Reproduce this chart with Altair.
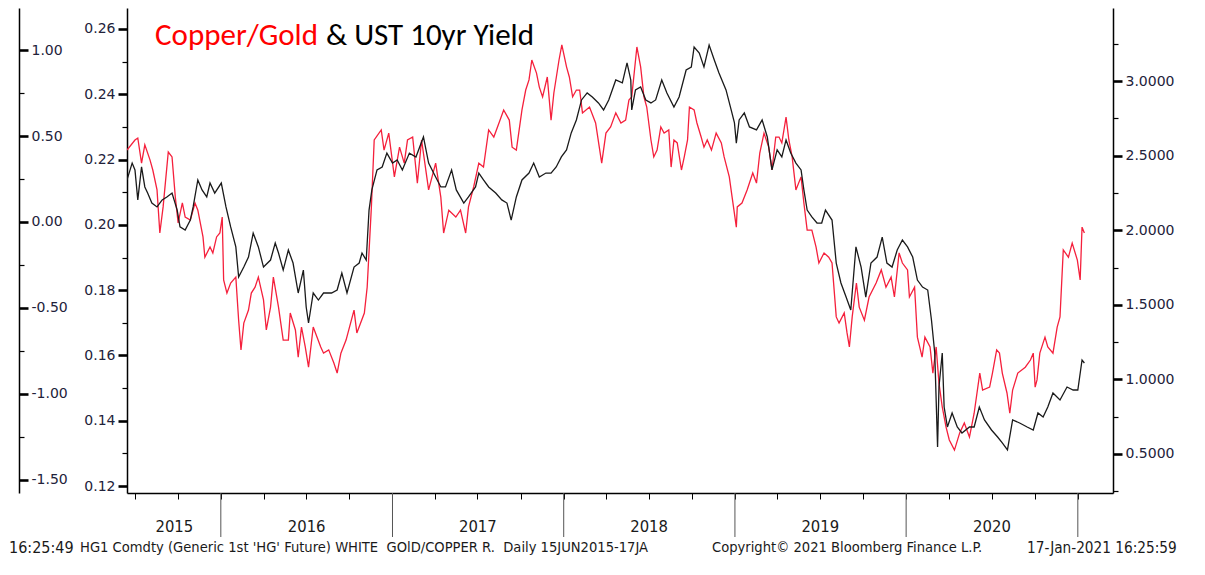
import altair as alt
import pandas as pd

# ---------------- data ----------------
red_dates = ["2015-06-15","2015-07-02","2015-07-08","2015-07-16","2015-07-23","2015-08-03","2015-08-09","2015-08-18","2015-08-24","2015-08-31",
"2015-09-11","2015-09-19","2015-09-26","2015-10-02","2015-10-11","2015-10-17","2015-10-28","2015-11-07","2015-11-13","2015-11-24",
"2015-11-28","2015-12-09","2015-12-15","2015-12-23","2015-12-30","2016-01-04","2016-01-07","2016-01-14","2016-01-22","2016-02-02",
"2016-02-08","2016-02-13","2016-02-19","2016-02-29","2016-03-06","2016-03-14","2016-03-21","2016-04-01","2016-04-07","2016-04-16",
"2016-04-22","2016-05-03","2016-05-13","2016-05-24","2016-05-28","2016-06-08","2016-06-14","2016-06-21","2016-06-29","2016-07-06",
"2016-07-16","2016-08-01","2016-08-07","2016-08-18","2016-08-29","2016-09-05","2016-09-13","2016-09-24","2016-10-11","2016-10-17",
"2016-11-02","2016-11-08","2016-11-17","2016-11-23","2016-12-08","2016-12-14","2016-12-24","2017-01-05","2017-01-16","2017-01-26",
"2017-02-02","2017-02-13","2017-02-23","2017-03-04","2017-03-19","2017-04-03","2017-04-14","2017-04-20","2017-05-01","2017-05-16",
"2017-05-26","2017-06-06","2017-06-12","2017-06-23","2017-07-04","2017-07-14","2017-07-25","2017-08-05","2017-08-16","2017-08-26",
"2017-09-07","2017-09-13","2017-09-22","2017-10-04","2017-10-12","2017-10-19","2017-10-25","2017-11-04","2017-11-10","2017-11-17",
"2017-11-27","2017-12-05","2017-12-11","2017-12-22","2017-12-28","2018-01-07","2018-01-13","2018-01-20","2018-01-28","2018-02-04",
"2018-02-10","2018-02-25","2018-03-10","2018-03-23","2018-04-01","2018-04-11","2018-04-22","2018-05-03","2018-05-13","2018-05-20",
"2018-05-26","2018-06-06","2018-06-14","2018-06-21","2018-06-27","2018-07-06","2018-07-12","2018-07-19","2018-07-27","2018-08-03",
"2018-08-13","2018-08-18","2018-08-24","2018-08-31","2018-09-09","2018-09-15","2018-09-22","2018-09-26","2018-10-06","2018-10-12",
"2018-10-21","2018-10-27","2018-11-03","2018-11-12","2018-11-22","2018-12-03","2018-12-09","2018-12-20","2018-12-26","2019-01-04",
"2019-01-06","2019-01-16","2019-01-27","2019-02-08","2019-02-16","2019-02-23","2019-03-04","2019-03-14","2019-03-21","2019-03-29",
"2019-04-05","2019-04-11","2019-04-20","2019-04-26","2019-05-03","2019-05-11","2019-05-22","2019-05-28","2019-06-04","2019-06-14",
"2019-06-23","2019-06-29","2019-07-10","2019-07-20","2019-07-27","2019-08-05","2019-08-11","2019-08-22","2019-08-28","2019-09-02",
"2019-09-08","2019-09-17","2019-09-23","2019-10-04","2019-10-14","2019-10-29","2019-11-09","2019-11-19","2019-11-30","2019-12-07",
"2019-12-17","2019-12-24","2020-01-04","2020-01-08","2020-01-19","2020-01-25","2020-02-04","2020-02-10","2020-02-21","2020-02-27",
"2020-03-05","2020-03-11","2020-03-18","2020-03-26","2020-04-02","2020-04-13","2020-04-24","2020-05-04","2020-05-15","2020-05-25",
"2020-06-06","2020-06-12","2020-06-27","2020-07-03","2020-07-12","2020-07-18","2020-07-24","2020-08-03","2020-08-09","2020-08-15",
"2020-08-26","2020-09-11","2020-09-22","2020-09-28","2020-10-02","2020-10-06","2020-10-12","2020-10-23","2020-10-29","2020-11-09",
"2020-11-18","2020-11-24","2020-12-01","2020-12-12","2020-12-20","2020-12-31","2021-01-06","2021-01-10","2021-01-15"]
red_values = [0.2229,0.2260,0.2266,0.2189,0.2245,0.2199,0.2168,0.2107,0.1975,0.2055,
0.2223,0.2208,0.2085,0.2006,0.2067,0.2024,0.2015,0.2067,0.2045,0.1963,
0.1901,0.1932,0.1914,0.1963,0.1975,0.2024,0.1831,0.1791,0.1822,0.1840,
0.1708,0.1617,0.1699,0.1739,0.1791,0.1809,0.1840,0.1770,0.1678,0.1748,
0.1840,0.1748,0.1647,0.1647,0.1730,0.1678,0.1595,0.1687,0.1626,0.1564,
0.1687,0.1626,0.1607,0.1617,0.1577,0.1546,0.1607,0.1647,0.1739,0.1669,
0.1730,0.1809,0.2055,0.2260,0.2291,0.2229,0.2281,0.2147,0.2238,0.2189,
0.2260,0.2269,0.2128,0.2260,0.2107,0.2189,0.2085,0.1975,0.2045,0.2024,
0.2045,0.1975,0.2055,0.2116,0.2189,0.2177,0.2291,0.2269,0.2312,0.2352,
0.2321,0.2238,0.2229,0.2352,0.2413,0.2444,0.2505,0.2465,0.2422,0.2392,
0.2453,0.2321,0.2404,0.2505,0.2551,0.2484,0.2453,0.2392,0.2413,0.2413,
0.2343,0.2361,0.2312,0.2189,0.2281,0.2300,0.2343,0.2312,0.2321,0.2382,
0.2392,0.2545,0.2484,0.2392,0.2361,0.2260,0.2208,0.2229,0.2300,0.2281,
0.2291,0.2177,0.2260,0.2251,0.2168,0.2208,0.2260,0.2361,0.2352,0.2312,
0.2269,0.2238,0.2260,0.2229,0.2281,0.2251,0.2208,0.2147,0.2085,0.1993,
0.2055,0.2067,0.2107,0.2159,0.2128,0.2220,0.2281,0.2238,0.2168,0.2269,
0.2269,0.2251,0.2330,0.2260,0.2208,0.2107,0.2147,0.2067,0.1984,0.1984,
0.1932,0.1883,0.1914,0.1901,0.1883,0.1718,0.1699,0.1730,0.1669,0.1626,
0.1718,0.1822,0.1748,0.1708,0.1779,0.1822,0.1862,0.1809,0.1840,0.1779,
0.1914,0.1883,0.1862,0.1779,0.1809,0.1656,0.1595,0.1656,0.1626,0.1546,
0.1626,0.1515,0.1442,0.1381,0.1341,0.1310,0.1362,0.1393,0.1350,0.1423,
0.1546,0.1494,0.1503,0.1546,0.1617,0.1607,0.1546,0.1485,0.1423,0.1494,
0.1546,0.1564,0.1586,0.1607,0.1503,0.1525,0.1607,0.1656,0.1626,0.1607,
0.1687,0.1718,0.1923,0.1901,0.1944,0.1892,0.1831,0.1993,0.1975]

black_dates = ["2015-06-15","2015-06-26","2015-07-02","2015-07-08","2015-07-16","2015-07-23","2015-07-29","2015-08-07","2015-08-18","2015-08-29",
"2015-09-08","2015-09-19","2015-09-30","2015-10-06","2015-10-17","2015-10-28","2015-11-03","2015-11-13","2015-11-22","2015-12-02",
"2015-12-09","2015-12-19","2016-01-02","2016-01-12","2016-01-22","2016-02-02","2016-02-08","2016-02-19","2016-02-29","2016-03-10",
"2016-03-21","2016-04-01","2016-04-16","2016-04-26","2016-05-03","2016-05-13","2016-05-24","2016-06-03","2016-06-14","2016-06-25",
"2016-07-01","2016-07-06","2016-07-16","2016-07-27","2016-08-07","2016-08-24","2016-09-05","2016-09-15","2016-09-26","2016-10-11",
"2016-10-22","2016-10-28","2016-11-06","2016-11-12","2016-11-18","2016-11-29","2016-12-10","2016-12-20","2017-01-01","2017-01-11",
"2017-01-22","2017-02-06","2017-02-20","2017-03-08","2017-03-19","2017-04-03","2017-04-14","2017-04-24","2017-05-07","2017-05-17",
"2017-06-02","2017-06-12","2017-06-27","2017-07-04","2017-07-14","2017-07-25","2017-08-09","2017-08-22","2017-09-02","2017-09-11",
"2017-09-22","2017-10-04","2017-10-19","2017-10-29","2017-11-10","2017-11-24","2017-12-05","2017-12-16","2017-12-27","2018-01-07",
"2018-01-17","2018-01-28","2018-02-08","2018-02-20","2018-03-03","2018-03-16","2018-03-27","2018-04-07","2018-04-22","2018-05-06",
"2018-05-16","2018-05-24","2018-05-26","2018-06-03","2018-06-14","2018-06-25","2018-07-06","2018-07-16","2018-07-29","2018-08-09",
"2018-08-24","2018-09-04","2018-09-19","2018-09-30","2018-10-06","2018-10-17","2018-10-27","2018-11-07","2018-11-18","2018-11-28",
"2018-12-13","2018-12-24","2018-12-31","2019-01-04","2019-01-10","2019-01-21","2019-02-01","2019-02-16","2019-02-28","2019-03-11",
"2019-03-21","2019-04-01","2019-04-11","2019-04-20","2019-04-30","2019-05-11","2019-05-22","2019-05-28","2019-06-04","2019-06-14",
"2019-06-25","2019-07-05","2019-07-13","2019-07-27","2019-08-05","2019-08-15","2019-08-26","2019-09-05","2019-09-16","2019-09-27",
"2019-10-07","2019-10-18","2019-10-31","2019-11-11","2019-11-21","2019-12-02","2019-12-13","2019-12-24","2020-01-04","2020-01-15",
"2020-01-25","2020-02-05","2020-02-16","2020-02-24","2020-03-02","2020-03-08","2020-03-11","2020-03-18","2020-03-22","2020-03-29",
"2020-04-08","2020-04-19","2020-04-29","2020-05-15","2020-05-25","2020-06-05","2020-06-16","2020-07-01","2020-07-14","2020-07-24",
"2020-08-04","2020-08-15","2020-08-30","2020-09-15","2020-09-28","2020-10-08","2020-10-19","2020-10-29","2020-11-09","2020-11-24",
"2020-12-09","2020-12-22","2021-01-01","2021-01-10","2021-01-15"]
black_values = [2.337,2.450,2.404,2.203,2.424,2.290,2.249,2.182,2.156,2.203,
2.223,2.249,2.135,2.022,2.001,2.068,2.156,2.337,2.270,2.223,
2.316,2.249,2.316,2.156,2.022,1.888,1.686,1.753,1.820,1.981,
1.888,1.753,1.800,1.914,1.847,1.733,1.867,1.780,1.579,1.733,
1.485,1.378,1.579,1.532,1.579,1.579,1.599,1.713,1.579,1.753,
1.780,1.847,1.800,2.135,2.270,2.404,2.424,2.517,2.450,2.471,
2.404,2.517,2.491,2.625,2.450,2.357,2.290,2.290,2.404,2.270,
2.182,2.223,2.290,2.383,2.337,2.290,2.249,2.203,2.182,2.068,
2.223,2.337,2.383,2.450,2.357,2.383,2.383,2.424,2.491,2.538,
2.652,2.739,2.873,2.920,2.893,2.853,2.806,2.873,3.007,2.987,
3.121,3.007,2.806,2.940,2.960,2.873,2.853,2.873,3.007,2.920,
2.826,2.893,3.074,3.094,3.228,3.188,3.094,3.241,3.141,3.054,
2.940,2.806,2.719,2.584,2.739,2.786,2.692,2.672,2.739,2.625,
2.404,2.538,2.491,2.605,2.517,2.450,2.404,2.270,2.135,2.089,
2.048,2.048,2.135,2.068,1.780,1.646,1.552,1.465,1.888,1.753,
1.552,1.780,1.820,1.954,1.780,1.753,1.867,1.934,1.888,1.820,
1.666,1.619,1.599,1.398,1.177,0.547,0.949,1.177,0.815,0.681,
0.775,0.681,0.641,0.681,0.681,0.815,0.728,0.661,0.614,0.574,
0.527,0.728,0.708,0.681,0.661,0.775,0.748,0.815,0.909,0.862,
0.949,0.929,0.929,1.130,1.110]

red_ticks = [0.12, 0.14, 0.16, 0.18, 0.20, 0.22, 0.24, 0.26]
red_minor = [0.13, 0.15, 0.17, 0.19, 0.21, 0.23, 0.25]
black_ticks = [0.5, 1.0, 1.5, 2.0, 2.5, 3.0]
black_minor = [0.25, 0.75, 1.25, 1.75, 2.25, 2.75, 3.25]
outer_ticks = [-1.5, -1.0, -0.5, 0.0, 0.5, 1.0]
outer_minor = [-1.25, -0.75, -0.25, 0.25, 0.75]
year_starts = ["2016-01-01", "2017-01-01", "2018-01-01", "2019-01-01", "2020-01-01", "2021-01-01"]
year_labels = ["2015", "2016", "2017", "2018", "2019", "2020"]
year_label_dates = ["2015-09-24", "2016-07-02", "2017-07-02", "2018-07-02", "2019-07-02", "2020-07-02"]
quarter_years = [2015, 2015] + [y for y in range(2016, 2021) for _ in range(4)] + [2021]
quarter_months = [7, 10] + [1, 4, 7, 10] * 5 + [1]

# ---------------- chart ----------------
W, H = 986, 485
RED = "#f5203c"
BLACK = "#1a1a1a"
LABEL = "#22223a"
AX_FONT = "DejaVu Sans"
COND = "DejaVu Sans Condensed, Liberation Sans Narrow, Liberation Sans"
NB = "\u00a0"

red_df = pd.DataFrame({"date": red_dates, "value": red_values})
black_df = pd.DataFrame({"date": black_dates, "value": black_values})

xscale = alt.Scale(type="utc", domain=[alt.DateTime(year=2015, month=6, date=15, utc=True),
                                        alt.DateTime(year=2021, month=3, date=17, utc=True)])
xaxis = alt.Axis(values=[alt.DateTime(year=y, month=m, date=1, utc=True) for y, m in zip(quarter_years, quarter_months)],
                 labels=False, title=None, tickSize=6, tickColor="black", tickWidth=1,
                 domainColor="black", domainWidth=1.5, grid=False)

def yaxis(orient, values, labels=True, fmt=None, minor=False, offset=0, label_expr=None):
    kw = dict(orient=orient, values=values, title=None, grid=False,
              tickColor="black", domainColor="black", domainWidth=1.5,
              labelFont=AX_FONT, labelFontSize=14, labelColor=LABEL,
              labelOverlap=False, labelFlush=False, labelBound=False, offset=offset)
    if minor:
        kw.update(labels=False, domain=False, tickSize=5, tickWidth=1.2)
    else:
        kw.update(tickSize=9, tickWidth=2.6, labelPadding=3)
        if fmt:
            kw["format"] = fmt
        if label_expr:
            kw["labelExpr"] = label_expr
    return alt.Axis(**kw)

red_dom = [0.11786, 0.26643]
black_dom = [0.2386, 3.4893]
outer_dom = [-1.5756, 1.2442]
outer_off = -(W + 108)

red_line = alt.Chart(red_df).mark_line(color=RED, strokeWidth=1.3, clip=True).encode(
    x=alt.X("date:T", scale=xscale, axis=xaxis),
    y=alt.Y("value:Q", scale=alt.Scale(domain=red_dom, nice=False, zero=False),
            axis=yaxis("left", red_ticks, fmt=".2f")),
)
red_minor_l = alt.Chart(pd.DataFrame({"v": red_minor})).mark_point(opacity=0).encode(
    y=alt.Y("v:Q", scale=alt.Scale(domain=red_dom, nice=False, zero=False),
            axis=yaxis("left", red_minor, minor=True)),
)
black_line = alt.Chart(black_df).mark_line(color=BLACK, strokeWidth=1.3, clip=True).encode(
    x=alt.X("date:T", scale=xscale, axis=xaxis),
    y=alt.Y("value:Q", scale=alt.Scale(domain=black_dom, nice=False, zero=False),
            axis=yaxis("right", black_ticks, fmt=".4f")),
)
black_minor_l = alt.Chart(pd.DataFrame({"v": black_minor})).mark_point(opacity=0).encode(
    y=alt.Y("v:Q", scale=alt.Scale(domain=black_dom, nice=False, zero=False),
            axis=yaxis("right", black_minor, minor=True)),
)
outer_l = alt.Chart(pd.DataFrame({"v": outer_ticks})).mark_point(opacity=0).encode(
    y=alt.Y("v:Q", scale=alt.Scale(domain=outer_dom, nice=False, zero=False),
            axis=yaxis("right", outer_ticks, offset=outer_off,
                       label_expr="replace(format(datum.value, '.2f'), '\u2212', '-')")),
)
outer_minor_l = alt.Chart(pd.DataFrame({"v": outer_minor})).mark_point(opacity=0).encode(
    y=alt.Y("v:Q", scale=alt.Scale(domain=outer_dom, nice=False, zero=False),
            axis=yaxis("right", outer_minor, minor=True, offset=outer_off)),
)

year_rules = alt.Chart(pd.DataFrame({"date": year_starts})).mark_rule(color="#555555", strokeWidth=1, clip=False).encode(
    x=alt.X("date:T", scale=xscale, axis=xaxis),
    y=alt.value(H), y2=alt.value(H + 44),
)
year_text = alt.Chart(pd.DataFrame({"date": year_label_dates, "label": year_labels})).mark_text(
    font=COND, fontSize=16.5, color="#1a1a1a", baseline="middle", align="center", clip=False).encode(
    x=alt.X("date:T", scale=xscale, axis=xaxis),
    y=alt.value(H + 34),
    text="label:N",
)

one = pd.DataFrame({"k": [0]})
def label(text, x, y, size, color="#1a1a1a", font=COND, align="left", baseline="middle"):
    return alt.Chart(one).mark_text(text=text, font=font, fontSize=size, color=color,
                                    align=align, baseline=baseline, clip=False).encode(
        x=alt.value(x), y=alt.value(y))

title_red = label("Copper/Gold", 28, 37, 31, color="#ff0000", font="Carlito, Lato", baseline="alphabetic")
title_blk = label("& UST 10yr Yield", 199, 37, 31, color="#000000", font="Carlito, Lato", baseline="alphabetic")

foot_y = 540
f1 = label("16:25:49", -118, foot_y, 16, color="#1a1a1a")
f2 = label("HG1 Comdty (Generic 1st 'HG' Future) WHITE" + NB + NB + "GOlD/COPPER R." + NB + NB + "Daily 15JUN2015-17JA",
           -47, foot_y, 14.6)
f3 = label("Copyright\u00a9 2021 Bloomberg Finance L.P.", 585, foot_y, 14.6)
f4 = label("17-Jan-2021 16:25:59", 900, foot_y, 15.2)

chart = alt.layer(
    red_line, red_minor_l, black_line, black_minor_l, outer_l, outer_minor_l,
    year_rules, year_text, title_red, title_blk, f1, f2, f3, f4,
).resolve_scale(y="independent").properties(
    width=W, height=H,
    autosize=alt.AutoSizeParams(type="none"),
    padding={"left": 119, "top": 0, "right": 84, "bottom": 74},
    background="white",
).configure_view(strokeWidth=0)

chart.save("out.html", embed_options={"renderer": "svg", "actions": False})
